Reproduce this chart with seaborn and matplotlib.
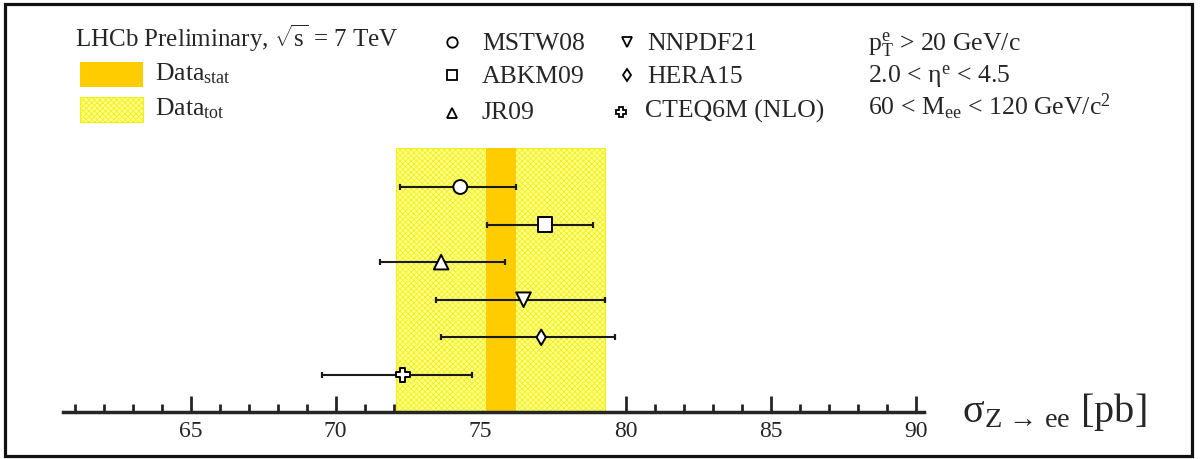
import matplotlib
matplotlib.use("Agg")
import matplotlib.pyplot as plt
import seaborn as sns
import pandas as pd
from matplotlib.patches import Rectangle

# ---------------- data ----------------
models = ["MSTW08", "ABKM09", "JR09", "NNPDF21", "HERA15", "CTEQ6M (NLO)"]
centers = [74.30, 77.22, 73.64, 76.48, 77.09, 72.32]
err_lo = [72.22, 75.22, 71.52, 73.47, 73.64, 69.54]
err_hi = [76.21, 78.88, 75.83, 79.30, 79.62, 74.70]
model_markers = ["o", "s", "^", "v", "d", "P"]
data_central = 75.7
data_stat = 0.52
data_tot = 3.6
major_ticks = [65, 70, 75, 80, 85, 90]
minor_ticks = list(range(61, 91))

# marker area per model (style only)
marker_area = {"MSTW08": 100, "ABKM09": 104, "JR09": 110, "NNPDF21": 110,
               "HERA15": 62, "CTEQ6M (NLO)": 108}

sns.set_style("white")
plt.rcParams["font.family"] = ["Liberation Serif", "DejaVu Serif"]
plt.rcParams["mathtext.fontset"] = "custom"
plt.rcParams["mathtext.rm"] = "Liberation Serif"
plt.rcParams["mathtext.it"] = "Liberation Serif:italic"
plt.rcParams["mathtext.bf"] = "Liberation Serif:bold"
plt.rcParams["hatch.linewidth"] = 0.6

W, H = 1202, 459
fig = plt.figure(figsize=(W / 100, H / 100), dpi=100)

ax_bottom_px = 411.7
ax_top_px = 148.3
ax = fig.add_axes([0, (H - ax_bottom_px) / H, 1, (ax_bottom_px - ax_top_px) / H])
ax.set_xlim(58.428, 99.876)
ax.set_ylim(5.98, -1.03)

df = pd.DataFrame({"model": models, "center": centers, "lo": err_lo, "hi": err_hi})
df["row"] = range(len(df))

# data bands
ax.axvspan(data_central - data_tot, data_central + data_tot, ymin=0, ymax=1,
           facecolor="#ffff8c", edgecolor="#f2ee1a", hatch="xxxxxx", linewidth=0.8, zorder=1)
ax.axvspan(data_central - data_stat, data_central + data_stat, ymin=0, ymax=1,
           facecolor="#ffcc00", edgecolor="none", linewidth=0, zorder=2)

# error bars
ax.errorbar(df["center"], df["row"],
            xerr=[df["center"] - df["lo"], df["hi"] - df["center"]],
            fmt="none", ecolor="#1a1a1a", elinewidth=1.5, capsize=2.2, capthick=1.6, zorder=3)

sns.scatterplot(data=df, x="center", y="row", style="model", size="model",
                markers=dict(zip(models, model_markers)), sizes=marker_area,
                color="white", edgecolor="black", linewidth=1.4,
                legend=False, ax=ax, zorder=4)

# axis styling
for s in ["left", "top", "right"]:
    ax.spines[s].set_visible(False)
ax.spines["bottom"].set_bounds(60.6, 90.3)
ax.spines["bottom"].set_linewidth(2.5)
ax.set_xticks(major_ticks)
ax.set_xticklabels([str(t) for t in major_ticks])
ax.set_xticks(minor_ticks, minor=True)
ax.tick_params(axis="x", which="major", direction="in", length=11.5, width=2.0,
               labelsize=17, pad=7, bottom=True)
ax.tick_params(axis="x", which="minor", direction="in", length=6, width=2.0, bottom=True)
ax.set_yticks([])
ax.set_xlabel("")
ax.set_ylabel("")
ax.patch.set_alpha(0)

# overlay axes in pixel coordinates for header / frame
ov = fig.add_axes([0, 0, 1, 1], zorder=-1)
ov.set_xlim(0, W)
ov.set_ylim(H, 0)
ov.axis("off")
ov.add_patch(Rectangle((5, 4), 1187, 452, fill=False, edgecolor="#111111", linewidth=2.3))

fs = 18.5
def txt(x, y, s, **kw):
    kw.setdefault("fontsize", fs)
    fig.text(x / W, 1 - y / H, s, ha="left", va="baseline", **kw)

txt(75, 47, r"LHCb Preliminary, $\sqrt{\mathrm{s}}$ = 7 TeV", fontsize=18)
ov.add_patch(Rectangle((80, 62), 63, 25, facecolor="#ffcc00", edgecolor="none"))
ov.add_patch(Rectangle((80, 97), 63, 25, facecolor="#ffff8c", edgecolor="#f2ee1a",
                       hatch="xxxxxx", linewidth=0.8))
txt(155, 80, r"Data$_{\mathrm{stat}}$")
txt(155, 115, r"Data$_{\mathrm{tot}}$")

leg_pos = [(452, 41.7, 482, 50), (452, 75, 482, 83), (452, 113, 482, 119),
           (627, 41.7, 647, 50), (627, 75, 647, 83), (621, 112, 645, 118)]
for (mx, my, tx, ty), name, mk in zip(leg_pos, models, model_markers):
    ov.plot([mx], [my], marker=mk, markersize=7.5 if mk != "d" else 6.5,
            markerfacecolor="white", markeredgecolor="black",
            markeredgewidth=1.3, linestyle="none")
    txt(tx, ty, name)

txt(868, 50, r"$\mathrm{p}_{\mathrm{T}}^{\mathrm{e}}$ > 20 GeV/c")
txt(868, 83, r"2.0 < η$^{\mathrm{e}}$ < 4.5")
txt(868, 115, r"60 < M$_{\mathrm{ee}}$ < 120 GeV/c$^{2}$")

txt(962, 422, r"σ$_{\mathrm{Z\,\rightarrow\,ee}}$ [pb]", fontsize=29)

fig.savefig("out.png", dpi=100)
